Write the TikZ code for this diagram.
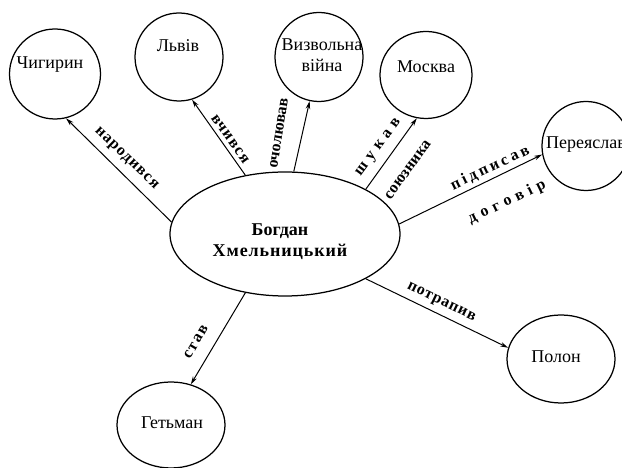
\documentclass[tikz,border=0pt]{standalone}
\usepackage{fontspec}
\setmainfont{Liberation Serif}
\usetikzlibrary{shapes.geometric,arrows.meta}
\newcommand\lspc[2]{{\addfontfeature{LetterSpace=#1}#2}}
\begin{document}
\begin{tikzpicture}[x=1pt,y=1pt,
  shp/.style={ellipse, draw, line width=1.25pt, inner sep=0pt},
  ntxt/.style={font=\fontsize{18}{21}\selectfont, inner sep=0pt, align=center},
  btxt/.style={font=\fontsize{18}{21}\selectfont\bfseries, inner sep=0pt, align=center},
  lbl/.style={font=\fontsize{16}{18}\selectfont\bfseries, inner sep=0pt},
  arr/.style={line width=1pt, -{Stealth[length=8pt,width=4.5pt]}}]
\useasboundingbox[fill=white] (0,0) rectangle (622,468);

% shapes
\node[shp, minimum width=230, minimum height=124] (bh) at (285,234) {};
\node[shp, minimum width=91, minimum height=90] (chig) at (55,394) {};
\node[shp, minimum width=88, minimum height=88] (lviv) at (179,411) {};
\node[shp, minimum width=88, minimum height=89] (viyna) at (319,411) {};
\node[shp, minimum width=92, minimum height=87] (mosk) at (426,393) {};
\node[shp, minimum width=88, minimum height=89] (per) at (586,322) {};
\node[shp, minimum width=108, minimum height=88] (polon) at (561,109) {};
\node[shp, minimum width=108, minimum height=86] (het) at (171,43) {};

% texts
\node[btxt] (bht) at (280,226) {Богдан\\\lspc{5}{Хмельницький}};
\node[ntxt] (chigt) at (50,403) {Чигирин};
\node[ntxt] (lvivt) at (178,422) {Львів};
\node[ntxt] (viynat) at (322,413) {Визвольна\\війна};
\node[ntxt] (moskt) at (426,401) {Москва};
\node[ntxt, anchor=west] (pert) at (546,323) {Переяслав};
\node[ntxt] (polont) at (556,111) {Полон};
\node[ntxt] (hett) at (172,45) {Гетьман};

% connectors
\draw[arr] (bh.174.5) -- (chig.-76);
\draw[arr] (bh.124.7) -- (lviv.-73.9);
\draw[arr] (bh.82.6) -- (viyna.258.7);
\draw[arr] (bh.29.3) -- (mosk.258.7);
\draw[arr] (bh.5.5) -- (per.191.8);
\draw[arr] (bh.-29.9) -- (polon.168.9);
\draw[arr] (bh.-124.3) -- (het.64.6);

% labels
\node[lbl, rotate=-44] (l1) at (126,309) {\lspc{6}{народився}};
\node[lbl, rotate=-54.5] (l2) at (230,329) {\lspc{7}{вчився}};
\node[lbl, rotate=81] (l3) at (279,335) {очолював};
\node[lbl, rotate=53.7] (l4) at (379,320) {\lspc{32}{шукав}};
\node[lbl, rotate=53.7] (l5) at (408,298) {союзника};
\node[lbl, rotate=25.6] (l6) at (490,300) {\lspc{19}{підписав}};
\node[lbl, rotate=25.6] (l7) at (507,266) {\lspc{33}{договір}};
\node[lbl, rotate=-25.9] (l8) at (441,165) {\lspc{5}{потрапив}};
\node[lbl, rotate=59.4] (l9) at (196,126) {\lspc{10}{став}};
\end{tikzpicture}
\end{document}
